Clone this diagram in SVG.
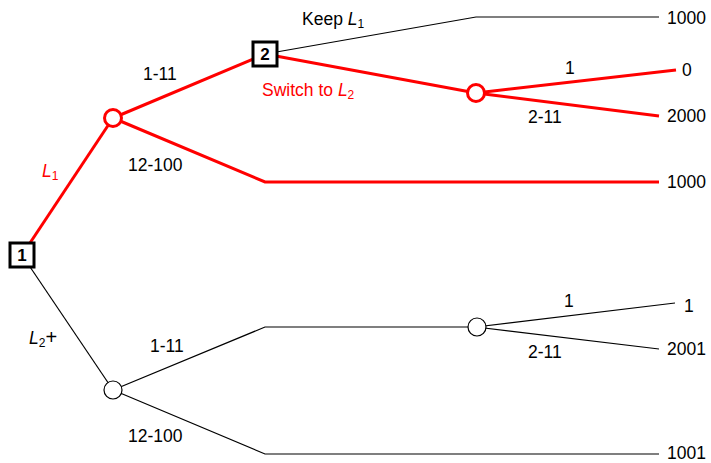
<svg xmlns="http://www.w3.org/2000/svg" width="711" height="463" viewBox="0 0 711 463">
<style>
.t{font-family:"Liberation Sans",Arial,sans-serif;font-size:17.5px;fill:#000}
.r{fill:#ff0000}
.hl{stroke:#ff0000;stroke-width:3;fill:none}
.bl{stroke:#000;stroke-width:1.2;fill:none}
.sq{fill:#fff;stroke:#000;stroke-width:3}
.cr{fill:#fff;stroke:#ff0000;stroke-width:3}
.cb{fill:#fff;stroke:#000;stroke-width:1.2}
.nl{font-family:"Liberation Sans",Arial,sans-serif;font-size:17px;font-weight:bold;text-anchor:middle}
.i{font-style:italic}
</style>
<g id="connectors">
<polyline class="bl" points="265,54 476,17 659,17"/>
<polyline class="bl" points="22,255 113,390"/>
<polyline class="bl" points="113,390 265,327 476,327"/>
<polyline class="bl" points="476,327 675,303"/>
<polyline class="bl" points="476,327 659,349"/>
<polyline class="bl" points="113,390 265,454 659,454"/>
<polyline class="hl" points="22,255 113,118"/>
<polyline class="hl" points="113,118 265,54"/>
<polyline class="hl" points="113,118 265,182 659,182"/>
<polyline class="hl" points="265,54 476,93"/>
<polyline class="hl" points="476,93 676,70"/>
<polyline class="hl" points="476,93 659,116"/>
</g>
<g id="node1"><rect class="sq" x="10" y="243" width="24" height="24"/><text class="nl" x="22" y="261">1</text></g>
<g id="node2"><rect class="sq" x="253" y="42" width="24" height="24"/><text class="nl" x="265" y="60">2</text></g>
<g id="chance1"><circle class="cr" cx="113" cy="118" r="8.5"/></g>
<g id="chance2"><circle class="cr" cx="476" cy="93" r="8.5"/></g>
<g id="chance3"><circle class="cb" cx="113" cy="390" r="9"/></g>
<g id="chance4"><circle class="cb" cx="477" cy="327" r="9"/></g>
<g id="labels">
<text class="t r" x="42" y="177"><tspan class="i">L</tspan><tspan font-size="12" dy="3">1</tspan></text>
<text class="t" x="29" y="344"><tspan class="i">L</tspan><tspan font-size="12" dy="3">2</tspan><tspan dy="-3" font-size="20">+</tspan></text>
<text class="t" x="143" y="80">1-11</text>
<text class="t" x="128" y="171">12-100</text>
<text class="t" x="302" y="25">Keep <tspan class="i">L</tspan><tspan font-size="12" dy="3">1</tspan></text>
<text class="t r" x="262" y="96">Switch to <tspan class="i">L</tspan><tspan font-size="12" dy="3">2</tspan></text>
<text class="t" x="565" y="74">1</text>
<text class="t" x="528" y="123">2-11</text>
<text class="t" x="667" y="24">1000</text>
<text class="t" x="682" y="76">0</text>
<text class="t" x="667" y="122">2000</text>
<text class="t" x="667" y="188">1000</text>
<text class="t" x="150" y="352">1-11</text>
<text class="t" x="128" y="442">12-100</text>
<text class="t" x="564" y="307">1</text>
<text class="t" x="528" y="358">2-11</text>
<text class="t" x="684" y="312">1</text>
<text class="t" x="667" y="355">2001</text>
<text class="t" x="667" y="459">1001</text>
</g>
</svg>
